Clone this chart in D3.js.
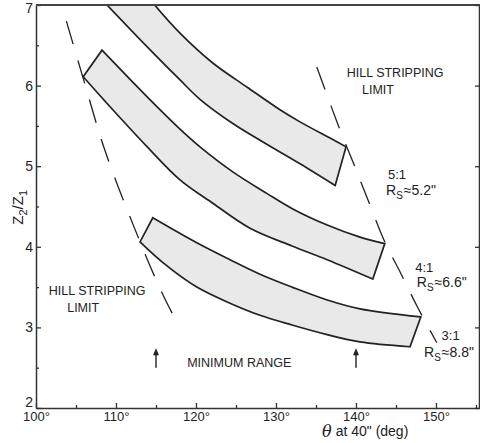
<!DOCTYPE html>
<html>
<head>
<meta charset="utf-8">
<script src="https://cdn.jsdelivr.net/npm/d3@7"></script>
<style>
  body { margin: 0; background: #fff; }
  svg { display: block; }
  text { font-family: "Liberation Sans", Arial, sans-serif; fill: #222; }
</style>
</head>
<body>
<div id="chart"></div>
<script>
// axis ticks
var xMajor = [100, 110, 120, 130, 140, 150]
var xMinor = [105, 115, 125, 135, 145, 155]
var yMajor = [2, 3, 4, 5, 6, 7]
var yMinor = [2.5, 3.5, 4.5, 5.5, 6.5]

// bands: [theta, Z2/Z1], upper edge and lower edge, left to right
var band51Upper = [[114.4, 7.05], [118, 6.65], [122.1, 6.28], [126.4, 5.98], [130.5, 5.70], [133, 5.55], [137.1, 5.33], [138.75, 5.24]]
var band51Lower = [[108.4, 7.05], [113.9, 6.48], [118, 6.07], [120.5, 5.83], [124.6, 5.53], [128.9, 5.27], [133, 5.03], [137.4, 4.76]]
var band41Upper = [[108.25, 6.44], [113.9, 5.86], [118, 5.46], [120.5, 5.24], [124.6, 4.93], [128.9, 4.66], [132.1, 4.47], [136.4, 4.27], [140.5, 4.12], [143.6, 4.04]]
var band41Lower = [[105.9, 6.11], [109.6, 5.70], [113.9, 5.24], [118, 4.83], [122.1, 4.54], [126.75, 4.23], [132, 4.01], [136.4, 3.84], [142.1, 3.60]]
var band31Upper = [[114.6, 4.36], [120.1, 4.05], [124.25, 3.84], [128, 3.66], [132, 3.50], [136.4, 3.34], [140.5, 3.23], [148.1, 3.13]]
var band31Lower = [[113, 4.06], [115.9, 3.80], [120.1, 3.50], [124.25, 3.30], [128, 3.15], [132, 3.03], [136.4, 2.91], [140.5, 2.82], [146.75, 2.76]]

// hill stripping limits (dashed)
var leftLimit = [[103.8, 6.80], [105.9, 6.09], [108.6, 5.20], [112.4, 4.21], [115.7, 3.44], [117.9, 3.01]]
var rightLimit = [[135.1, 6.23], [138, 5.45], [139.75, 5.02], [141.5, 4.58], [143.6, 4.06], [145.5, 3.69], [147.75, 3.24], [150.1, 2.81]]

// minimum range arrows
var arrowTheta = [115, 140]

var ratios = ['5:1', '4:1', '3:1']
var rsValues = ['5.2', '6.6', '8.8']

var W = 480, H = 443

var x = d3.scaleLinear().domain([100, 155.5]).range([36, 480])
var y = d3.scaleLinear().domain([2, 7]).range([408, 5])

var svg = d3.select('#chart').append('svg')
    .attr('width', W)
    .attr('height', H)

svg.append('defs').append('clipPath').attr('id', 'plot')
  .append('rect')
    .attr('x', x(100)).attr('y', y(7))
    .attr('width', x(155.5) - x(100)).attr('height', y(2) - y(7))

var line = d3.line()
    .x(function(d) { return x(d[0]) })
    .y(function(d) { return y(d[1]) })
    .curve(d3.curveCatmullRom)

function bandPath(upper, lower) {
  var top = line(upper)
  var bottom = line(lower.slice().reverse())
  return top + 'L' + bottom.slice(1) + 'Z'
}

var plot = svg.append('g').attr('clip-path', 'url(#plot)')

var bands = [[band51Upper, band51Lower], [band41Upper, band41Lower], [band31Upper, band31Lower]]
plot.selectAll('path.band')
    .data(bands)
  .enter().append('path')
    .attr('class', 'band')
    .attr('d', function(d) { return bandPath(d[0], d[1]) })
    .attr('fill', '#e9e9e9')
    .attr('stroke', '#222')
    .attr('stroke-width', 1.7)
    .attr('stroke-linejoin', 'miter')

plot.selectAll('path.limit')
    .data([leftLimit, rightLimit])
  .enter().append('path')
    .attr('class', 'limit')
    .attr('d', line)
    .attr('fill', 'none')
    .attr('stroke', '#222')
    .attr('stroke-width', 1.3)
    .attr('stroke-dasharray', '24,17')

// arrows
var arrows = svg.selectAll('g.arrow')
    .data(arrowTheta)
  .enter().append('g')
    .attr('class', 'arrow')
    .attr('transform', function(d) { return 'translate(' + x(d) + ',0)' })
arrows.append('line')
    .attr('y1', y(2.5))
    .attr('y2', y(2.7))
    .attr('stroke', '#222')
    .attr('stroke-width', 1.4)
arrows.append('path')
    .attr('d', 'M-3,' + (y(2.74) + 7) + 'L0,' + y(2.74) + 'L3,' + (y(2.74) + 7) + 'Z')
    .attr('fill', '#222')

// axes
var axisStyle = function(g) {
  g.select('.domain').attr('stroke', '#333').attr('stroke-width', 1.5)
  g.selectAll('.tick line').attr('stroke', '#333').attr('stroke-width', 1.3)
}

var xAxis = svg.append('g')
    .attr('transform', 'translate(0,' + y(2) + ')')
    .call(d3.axisBottom(x).tickValues(xMajor).tickSize(-5).tickSizeOuter(0).tickPadding(4)
      .tickFormat(function(d) { return d + '°' }))
xAxis.selectAll('text').attr('font-size', 13).attr('fill', '#222')
xAxis.call(axisStyle)
svg.append('g')
    .attr('transform', 'translate(0,' + y(2) + ')')
    .call(d3.axisBottom(x).tickValues(xMinor).tickSize(-3).tickFormat(''))
    .call(function(g) { g.select('.domain').remove() })
    .call(axisStyle)

var yAxis = svg.append('g')
    .attr('transform', 'translate(' + x(100) + ',0)')
    .call(d3.axisLeft(y).tickValues(yMajor).tickSize(-5).tickSizeOuter(0).tickPadding(3)
      .tickFormat(d3.format('d')))
yAxis.selectAll('text').attr('font-size', 14).attr('fill', '#222')
yAxis.selectAll('text').filter(function(d) { return d === 2 }).attr('dy', '-0.1em')
yAxis.selectAll('text').filter(function(d) { return d === 7 }).attr('dy', '0.55em')
yAxis.call(axisStyle)
svg.append('g')
    .attr('transform', 'translate(' + x(100) + ',0)')
    .call(d3.axisLeft(y).tickValues(yMinor).tickSize(-3).tickFormat(''))
    .call(function(g) { g.select('.domain').remove() })
    .call(axisStyle)

// top border and right axis
svg.append('line')
    .attr('x1', x(100)).attr('x2', W)
    .attr('y1', y(7)).attr('y2', y(7))
    .attr('stroke', '#444').attr('stroke-width', 1.8)
svg.append('g')
    .attr('transform', 'translate(' + (W - 1) + ',0)')
    .call(d3.axisRight(y).tickValues(yMajor).tickSize(-4).tickSizeOuter(0).tickFormat(''))
    .call(axisStyle)

// axis titles
var yTitle = svg.append('text')
    .attr('transform', 'translate(23,' + y(4.49) + ') rotate(-90)')
    .attr('text-anchor', 'middle')
    .attr('font-size', 15)
yTitle.append('tspan').text('Z')
yTitle.append('tspan').attr('dy', 4).attr('font-size', 11).text('2')
yTitle.append('tspan').attr('dy', -4).text('/Z')
yTitle.append('tspan').attr('dy', 4).attr('font-size', 11).text('1')

var xTitle = svg.append('text')
    .attr('x', x(135.75))
    .attr('y', 437)
xTitle.append('tspan').attr('font-size', 16).attr('font-style', 'italic')
    .attr('font-family', '"DejaVu Serif", serif').text('θ')
xTitle.append('tspan').attr('font-size', 14).attr('dx', 4).attr('dy', -1).text('at 40" (deg)')

// annotations
function label(t, th, z, size) {
  return svg.append('text')
      .attr('x', x(th)).attr('y', y(z))
      .attr('font-size', size || 12.5)
      .text(t)
}
label('HILL STRIPPING', 138.84, 6.11)
label('LIMIT', 140.75, 5.896)
label('HILL STRIPPING', 101.6, 3.40)
label('LIMIT', 103.9, 3.19)
label('MINIMUM RANGE', 118.9, 2.51)

var ratioPos = [[144, 4.84], [147.4, 3.69], [150.7, 2.84]]
var rsPos = [[143.75, 4.64], [147.6, 3.50], [148.5, 2.63]]
ratios.forEach(function(r, i) {
  label(r, ratioPos[i][0], ratioPos[i][1], 13)
  var t = svg.append('text')
      .attr('x', x(rsPos[i][0])).attr('y', y(rsPos[i][1]))
      .attr('font-size', 14)
  t.append('tspan').text('R')
  t.append('tspan').attr('dy', 4).attr('font-size', 10).text('S')
  t.append('tspan').attr('dy', -4).attr('dx', 1).text('≈' + rsValues[i] + '"')
})
</script>
</body>
</html>
